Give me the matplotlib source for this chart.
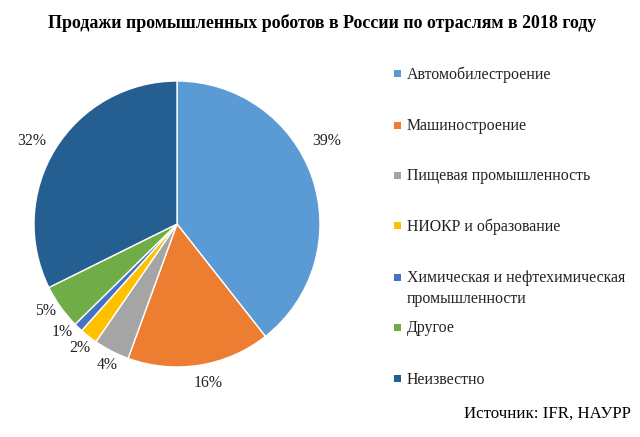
import numpy as np
import matplotlib.pyplot as plt
from matplotlib.patches import Rectangle

plt.rcParams['font.family'] = ['Liberation Serif', 'DejaVu Serif']

# Sales of industrial robots in Russia by sector, 2018 (shares, %)
sectors = [
    'Автомобилестроение',
    'Машиностроение',
    'Пищевая промышленность',
    'НИОКР и образование',
    'Химическая и нефтехимическая\nпромышленности',
    'Другое',
    'Неизвестно',
]
shares = [39, 16, 4, 2, 1, 5, 32]
colors = ['#5B9BD5', '#ED7D31', '#A5A5A5', '#FFC000', '#4472C4', '#70AD47', '#255E91']

W, H = 640, 437
fig = plt.figure(figsize=(W / 100, H / 100), dpi=100)

# pie centre (177, 224) px, radius 143 px
cx, cy, r = 177, 224, 143
ax = fig.add_axes([(cx - r) / W, (H - cy - r) / H, 2 * r / W, 2 * r / H])

wedges, texts = ax.pie(
    shares,
    colors=colors,
    startangle=90,
    counterclock=False,
    labels=[f'{s}%' for s in shares],
    wedgeprops=dict(edgecolor='white', linewidth=1),
    textprops=dict(fontsize=11.3, color='#222222'),
)
ax.set_xlim(-1, 1)
ax.set_ylim(-1, 1)
ax.set_aspect('equal')

# nudge the data labels the way the original places them
label_dist = [1.2, 1.13, 1.1, 1.1, 1.1, 1.1, 1.17]
label_shift = [-10, -2, -1, 0, 3, 2, -2]   # degrees, clockwise
for w, t, d, s in zip(wedges, texts, label_dist, label_shift):
    ang = np.deg2rad((w.theta1 + w.theta2) / 2 - s)
    t.set_position((d * np.cos(ang), d * np.sin(ang)))
    t.set_ha('center')
    t.set_va('center')

# legend drawn by hand to follow the original row spacing
legend_y = [73, 125, 175, 225, 277, 327, 378]
for label, color, y in zip(sectors, colors, legend_y):
    fig.patches.append(Rectangle((394 / W, (H - y - 3.5) / H), 7 / W, 7 / H,
                                 transform=fig.transFigure, facecolor=color,
                                 edgecolor='none'))
    fig.text(407 / W, (H - y + 6.5) / H, label, ha='left', va='top',
             fontsize=11.4, linespacing=1.35, color='#222222')

fig.text(0.503, 0.948, 'Продажи промышленных роботов в России по отраслям в 2018 году',
         ha='center', va='center', fontsize=12.9, fontweight='bold')
fig.text(0.985, 0.054, 'Источник: IFR, НАУРР', ha='right', va='center', fontsize=12.2)

fig.savefig('out.png', dpi=100)
